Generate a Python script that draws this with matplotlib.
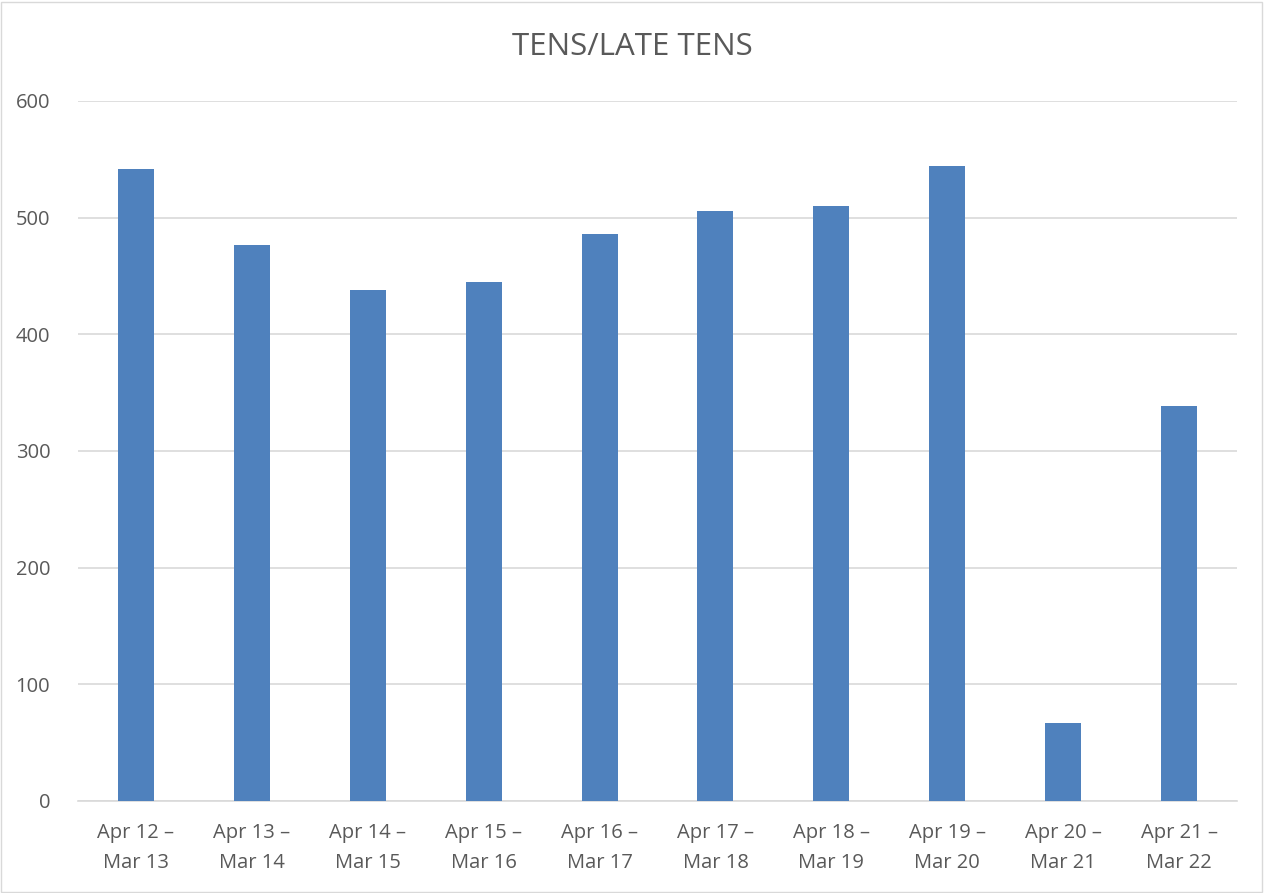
import matplotlib
matplotlib.use("Agg")
import matplotlib.pyplot as plt
import numpy as np

plt.rcParams["font.family"] = ["Open Sans", "DejaVu Sans"]

periods = ["Apr 12 –\nMar 13", "Apr 13 –\nMar 14", "Apr 14 –\nMar 15", "Apr 15 –\nMar 16",
           "Apr 16 –\nMar 17", "Apr 17 –\nMar 18", "Apr 18 –\nMar 19", "Apr 19 –\nMar 20",
           "Apr 20 –\nMar 21", "Apr 21 –\nMar 22"]
counts = [542, 477, 438, 445, 486, 506, 510, 544, 67, 339]
yticks = [0, 100, 200, 300, 400, 500, 600]

text_color = "#595959"

fig = plt.figure(figsize=(12.65, 8.93), dpi=100)
ax = fig.add_axes([78 / 1265, 1 - 801 / 893, (1237 - 78) / 1265, 700 / 893])

x = np.arange(len(periods))
ax.bar(x, counts, width=0.31, color="#4F81BD", zorder=3)

ax.set_xlim(-0.5, len(periods) - 0.5)
ax.set_ylim(0, 600)
ax.set_yticks(yticks)
ax.set_xticks(x)
ax.set_xticklabels(periods, fontsize=14.5, color=text_color, linespacing=1.62)
ax.tick_params(axis="y", labelsize=14.5, labelcolor=text_color, length=0, pad=20)
ax.tick_params(axis="x", length=0, pad=16)
ax.grid(axis="y", color="#D9D9D9", linewidth=1.2, zorder=0)

for side in ["top", "right", "left"]:
    ax.spines[side].set_visible(False)
ax.spines["bottom"].set_color("#D9D9D9")
ax.spines["bottom"].set_linewidth(1.2)

fig.text(0.5, 1 - 47 / 893, "TENS/LATE TENS", ha="center", va="center",
         fontsize=22.5, color=text_color)

fig.patches.append(plt.Rectangle((0.001, 0.001), 0.997, 0.997, transform=fig.transFigure,
                                 fill=False, edgecolor="#D9D9D9", linewidth=1))

fig.savefig("out.png", dpi=100)
